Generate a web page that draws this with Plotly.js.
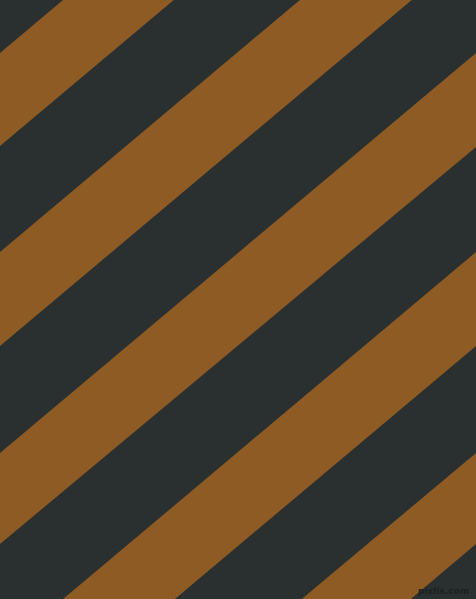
<!DOCTYPE html>
<html>
<head>
<meta charset="utf-8">
<script src="https://cdn.plot.ly/plotly-3.0.1.min.js"></script>
<style>
  html, body { margin: 0; padding: 0; background: #2a3030; }
  #stripes { width: 476px; height: 599px; }
</style>
</head>
<body>
<div id="stripes"></div>
<script>
// brown stripes: y (from top) where each edge meets the left side (x=0) and the right side (x=476)
const leftTop     = [  53,  252, 453, 652, 852, 1052];
const leftBottom  = [ 146,  346, 544, 746, 946, 1146];
const rightTop    = [-347, -148,  53, 252, 453,  652];
const rightBottom = [-254,  -54, 147, 346, 544,  746];
const edgeX = [0, 476];

const brown = '#8f5b24';
const dark = '#2a3030';

let traces = [];
for (let i = 0; i < leftTop.length; i++) {
    traces.push({
        x: [edgeX[0], edgeX[1], edgeX[1], edgeX[0], edgeX[0]],
        y: [leftTop[i], rightTop[i], rightBottom[i], leftBottom[i], leftTop[i]],
        type: 'scatter',
        mode: 'lines',
        fill: 'toself',
        fillcolor: brown,
        line: { color: brown, width: 0 },
        hoverinfo: 'skip',
        showlegend: false
    });
}

Plotly.newPlot('stripes', traces, {
    width: 476,
    height: 599,
    paper_bgcolor: dark,
    plot_bgcolor: dark,
    margin: { l: 0, r: 0, t: 0, b: 0 },
    xaxis: { range: edgeX, visible: false, fixedrange: true },
    yaxis: { range: [599, 0], visible: false, fixedrange: true },
    annotations: [{
        text: '<b>pixlis.com</b>',
        x: 471, y: 598,
        xref: 'x', yref: 'y',
        xanchor: 'right', yanchor: 'bottom',
        showarrow: false,
        font: { family: 'DejaVu Sans', size: 9, color: '#1b2020' }
    }]
}, { staticPlot: true });
</script>
</body>
</html>
